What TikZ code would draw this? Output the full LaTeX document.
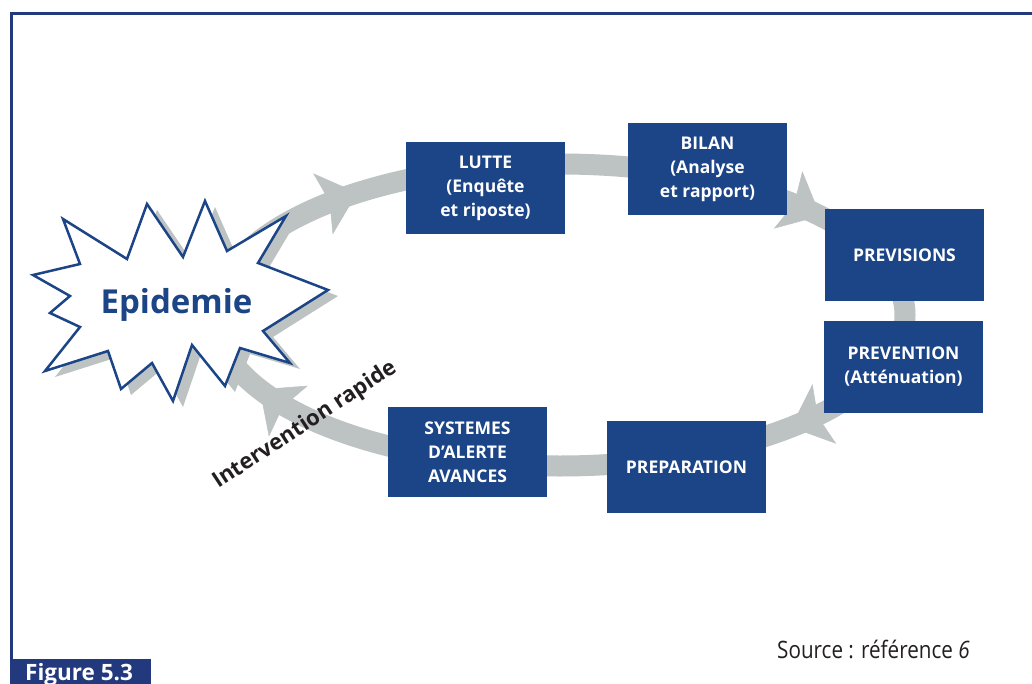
\documentclass[tikz,border=0pt]{standalone}
\usepackage{fontspec}
\setmainfont{Open Sans}
\newfontfamily\srcfont[FakeStretch=0.86]{Open Sans}
\usetikzlibrary{arrows.meta}
\definecolor{boxblue}{RGB}{27,69,135}
\definecolor{frameblue}{RGB}{35,57,126}
\definecolor{ringgray}{RGB}{189,194,194}
\definecolor{txtdark}{RGB}{35,31,32}
\tikzset{
  stage/.style={fill=boxblue, text=white, minimum width=159pt, minimum height=92pt,
    inner sep=0pt, align=center, font=\fontsize{17.5}{24}\selectfont\bfseries},
  ring/.style={draw=ringgray, line width=21pt},
  ringtip/.style={draw=ringgray, line width=0.5pt, -{Stealth[length=36pt,width=64pt,inset=7pt]}},
  burst/.style={fill=white, draw=boxblue, line width=2.5pt, line join=miter},
  burstshadow/.style={fill=ringgray},
}
\begin{document}
\begin{tikzpicture}[x=1pt,y=-1pt]
\useasboundingbox (0,0) rectangle (1032,684);
\fill[white] (0,0) rectangle (1032,684);
% cycle ring
\draw[ring] plot[domain=0:360,samples=181,smooth] ({560+345*cos(\x)},{315+151*sin(\x)}) -- cycle;
\foreach \a/\b in {219/234, 304/319, 33/48, 135.5/150.5}
  \draw[ringtip] plot[domain=\a:\b,samples=16,smooth] ({560+345*cos(\x)},{315+151*sin(\x)});
% burst
\def\burstpath{(63,219) -- (127,259) -- (147,204) -- (183,257) -- (205,201) -- (227,251) -- (286,216) -- (258,263) -- (328,290) -- (263,331) -- (290,363) -- (240,348) -- (225,386) -- (192,345) -- (173,401) -- (152,363) -- (121,389) -- (108,351) -- (45,371) -- (80,327) -- (50,313) -- (70,296) -- (33,275) -- (80,264) -- cycle}
\fill[burstshadow, shift={(10,6)}] \burstpath;
\filldraw[burst] \burstpath;
\node[text=boxblue, font=\fontsize{33}{40}\selectfont\bfseries, anchor=base, inner sep=0pt] (epi) at (176.5,313) {Epidemie};
% stages
\node[stage] (lutte) at (485.5,188) {LUTTE\\(Enquête\\et riposte)};
\node[stage] (bilan) at (707.5,169) {BILAN\\(Analyse\\et rapport)};
\node[stage] (previsions) at (904.5,255) {PREVISIONS};
\node[stage] (prevention) at (903.5,367) {PREVENTION\\(Atténuation)};
\node[stage] (preparation) at (686.5,467) {PREPARATION};
\node[stage, minimum height=90pt] (alerte) at (467.5,452) {SYSTEMES\\D’ALERTE\\AVANCES};
% labels
\node[text=txtdark, font=\fontsize{22}{26}\selectfont\bfseries, rotate=33.3, anchor=base, inner sep=0pt] (interv) at (308,430) {Intervention rapide};
\node[anchor=base west, inner sep=0pt, text=txtdark, font=\srcfont\fontsize{24}{28}\selectfont] (src) at (777,658) {Source : référence \textit{6}};
% frame
\draw[frameblue, line width=3pt] (11,659) -- (11,14) -- (1032,14);
\fill[frameblue] (10,659) rectangle (151,684);
\node[anchor=base west, text=white, font=\fontsize{22.5}{26}\selectfont\bfseries, inner sep=0pt] (fig) at (25,680) {Figure 5.3};
\end{tikzpicture}
\end{document}
